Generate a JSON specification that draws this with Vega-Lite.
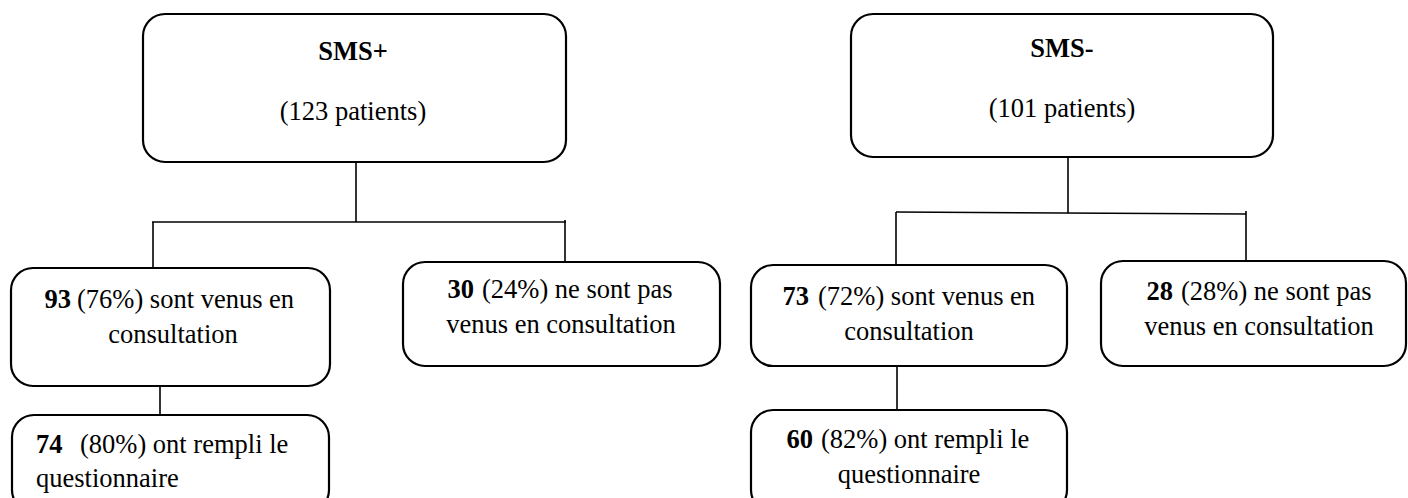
{
  "$schema": "https://vega.github.io/schema/vega-lite/v6.json",
  "width": 1408,
  "height": 498,
  "padding": 0,
  "autosize": {"type": "fit", "contains": "padding"},
  "background": "white",
  "config": {"view": {"stroke": null}, "text": {"font": "Liberation Serif, Times New Roman, serif", "fontSize": 26.5, "color": "black", "baseline": "alphabetic"}},
  "datasets": {
    "boxes": [
      {"id": "SMS+", "x": 143, "x2": 566, "y": 14, "y2": 162},
      {"id": "SMS-", "x": 851, "x2": 1273, "y": 14, "y2": 157},
      {"id": "93", "x": 11, "x2": 330, "y": 268, "y2": 386},
      {"id": "30", "x": 403, "x2": 720, "y": 262, "y2": 366},
      {"id": "74", "x": 12, "x2": 329, "y": 415, "y2": 512},
      {"id": "73", "x": 751, "x2": 1067, "y": 265, "y2": 366},
      {"id": "28", "x": 1101, "x2": 1406, "y": 261, "y2": 366},
      {"id": "60", "x": 751, "x2": 1067, "y": 410, "y2": 512}
    ],
    "links": [
      {"x": 356, "x2": 356, "y": 162, "y2": 222},
      {"x": 152, "x2": 566, "y": 222, "y2": 222},
      {"x": 153, "x2": 153, "y": 222, "y2": 268},
      {"x": 565, "x2": 565, "y": 220, "y2": 262},
      {"x": 160, "x2": 160, "y": 386, "y2": 415},
      {"x": 1068, "x2": 1068, "y": 157, "y2": 213},
      {"x": 896, "x2": 1246, "y": 212, "y2": 214},
      {"x": 896, "x2": 896, "y": 212, "y2": 265},
      {"x": 1246, "x2": 1246, "y": 211, "y2": 261},
      {"x": 897, "x2": 897, "y": 366, "y2": 410}
    ],
    "labels": [
      {"kind": "cn", "t": "(123 patients)", "x": 353, "y": 120},
      {"kind": "cn", "t": "(101 patients)", "x": 1062, "y": 117},
      {"kind": "cn", "t": "consultation", "x": 173, "y": 343},
      {"kind": "cn", "t": "venus en consultation", "x": 561, "y": 333},
      {"kind": "cn", "t": "consultation", "x": 909, "y": 340},
      {"kind": "cn", "t": "questionnaire", "x": 909, "y": 483},
      {"kind": "cn", "t": "venus en consultation", "x": 1259, "y": 335},
      {"kind": "cb", "t": "SMS+", "x": 353, "y": 60},
      {"kind": "cb", "t": "SMS-", "x": 1062, "y": 57},
      {"kind": "rb", "t": "93", "x": 71, "y": 308},
      {"kind": "rb", "t": "30", "x": 474, "y": 298},
      {"kind": "rb", "t": "73", "x": 809, "y": 305},
      {"kind": "rb", "t": "60", "x": 813, "y": 448},
      {"kind": "rb", "t": "28", "x": 1173, "y": 300},
      {"kind": "lb", "t": "74", "x": 36, "y": 453},
      {"kind": "ln", "t": "(76%) sont venus en", "x": 77, "y": 308},
      {"kind": "ln", "t": "(24%) ne sont pas", "x": 482, "y": 298},
      {"kind": "ln", "t": "(72%) sont venus en", "x": 818, "y": 305},
      {"kind": "ln", "t": "(82%) ont rempli le", "x": 821, "y": 448},
      {"kind": "ln", "t": "(28%) ne sont pas", "x": 1181, "y": 300},
      {"kind": "ln", "t": "(80%) ont rempli le", "x": 80, "y": 453},
      {"kind": "ln", "t": "questionnaire", "x": 36, "y": 487}
    ]
  },
  "resolve": {"scale": {"x": "shared", "y": "shared"}},
  "layer": [
    {
      "data": {"name": "links"},
      "mark": {"type": "rule", "color": "black", "strokeWidth": 1.6},
      "encoding": {
        "x": {"field": "x", "type": "quantitative", "scale": {"domain": [0, 1408], "nice": false, "zero": false}, "axis": null},
        "x2": {"field": "x2"},
        "y": {"field": "y", "type": "quantitative", "scale": {"domain": [0, 498], "nice": false, "zero": false, "reverse": true}, "axis": null},
        "y2": {"field": "y2"}
      }
    },
    {
      "data": {"name": "boxes"},
      "mark": {"type": "rect", "fill": "white", "stroke": "black", "strokeWidth": 2.2, "cornerRadius": 22, "clip": true},
      "encoding": {
        "x": {"field": "x", "type": "quantitative", "axis": null},
        "x2": {"field": "x2"},
        "y": {"field": "y", "type": "quantitative", "axis": null},
        "y2": {"field": "y2"}
      }
    },
    {
      "data": {"name": "labels"},
      "transform": [{"filter": "datum.kind === 'cn'"}],
      "mark": {"type": "text", "align": "center"},
      "encoding": {
        "x": {"field": "x", "type": "quantitative", "axis": null},
        "y": {"field": "y", "type": "quantitative", "axis": null},
        "text": {"field": "t"}
      }
    },
    {
      "data": {"name": "labels"},
      "transform": [{"filter": "datum.kind === 'cb'"}],
      "mark": {"type": "text", "fontWeight": "bold", "align": "center"},
      "encoding": {
        "x": {"field": "x", "type": "quantitative", "axis": null},
        "y": {"field": "y", "type": "quantitative", "axis": null},
        "text": {"field": "t"}
      }
    },
    {
      "data": {"name": "labels"},
      "transform": [{"filter": "datum.kind === 'rb'"}],
      "mark": {"type": "text", "fontWeight": "bold", "align": "right"},
      "encoding": {
        "x": {"field": "x", "type": "quantitative", "axis": null},
        "y": {"field": "y", "type": "quantitative", "axis": null},
        "text": {"field": "t"}
      }
    },
    {
      "data": {"name": "labels"},
      "transform": [{"filter": "datum.kind === 'lb'"}],
      "mark": {"type": "text", "fontWeight": "bold", "align": "left"},
      "encoding": {
        "x": {"field": "x", "type": "quantitative", "axis": null},
        "y": {"field": "y", "type": "quantitative", "axis": null},
        "text": {"field": "t"}
      }
    },
    {
      "data": {"name": "labels"},
      "transform": [{"filter": "datum.kind === 'ln'"}],
      "mark": {"type": "text", "align": "left"},
      "encoding": {
        "x": {"field": "x", "type": "quantitative", "axis": null},
        "y": {"field": "y", "type": "quantitative", "axis": null},
        "text": {"field": "t"}
      }
    }
  ]
}
